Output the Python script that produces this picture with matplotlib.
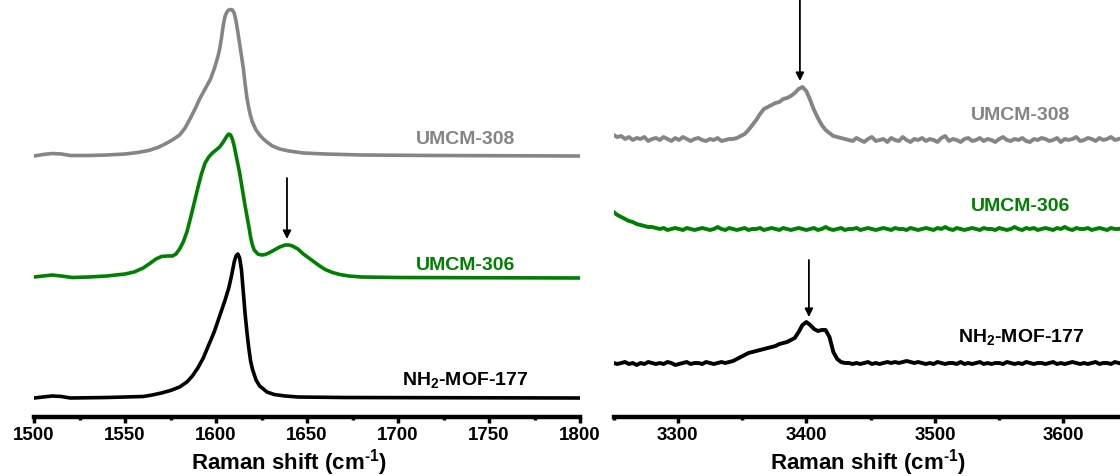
import matplotlib
matplotlib.use('Agg')
import matplotlib.pyplot as plt
from matplotlib.ticker import MultipleLocator
import numpy as np

plt.rcParams['font.family'] = ['Liberation Sans', 'DejaVu Sans']
plt.rcParams['font.weight'] = 'bold'
plt.rcParams['mathtext.fontset'] = 'custom'
plt.rcParams['mathtext.rm'] = 'Liberation Sans:bold'
plt.rcParams['mathtext.bf'] = 'Liberation Sans:bold'
plt.rcParams['mathtext.default'] = 'bf'

GRAY = '#858585'
GREEN = '#008000'
BLACK = '#000000'

# ---- left panel: 1500-1800 cm-1 (intensity above each trace's baseline) ----
x308_l = [1500, 1505, 1510, 1515, 1520, 1530, 1540, 1550, 1557, 1563, 1568, 1572,
          1576, 1580, 1583, 1586, 1589, 1591, 1594, 1597, 1599, 1601, 1602, 1603,
          1604, 1605, 1606, 1607, 1608, 1609, 1610, 1611, 1612, 1613, 1614, 1615,
          1616, 1617, 1618, 1619, 1620, 1622, 1624, 1626, 1628, 1631, 1635, 1640,
          1648, 1660, 1680, 1720, 1800]
y308_l = [0, 1.5, 2.5, 2, 0.5, 0.5, 1, 2, 3.5, 5.5, 8.5, 12,
          16, 21, 28, 38, 49, 57, 67, 77, 87, 99, 107, 118,
          131, 140, 144, 146, 146.5, 146, 143, 135, 124, 112, 100, 88,
          72, 58, 48, 40, 34, 26, 21, 17, 14, 10, 7, 5,
          3, 2, 1, 0.5, 0]

x306_l = [1500, 1505, 1510, 1515, 1521, 1530, 1540, 1550, 1555, 1560, 1564, 1567,
          1570, 1573, 1576, 1578, 1580, 1582, 1584, 1586, 1588, 1590, 1592, 1594,
          1596, 1598, 1600, 1602, 1604, 1605, 1606, 1607, 1608, 1609, 1610, 1611,
          1612, 1613, 1614, 1615, 1616, 1617, 1618, 1619, 1620, 1621, 1623, 1625,
          1627, 1629, 1632, 1635, 1638, 1640, 1642, 1645, 1648, 1651, 1654, 1657,
          1660, 1664, 1668, 1673, 1680, 1700, 1800]
y306_l = [1, 2, 3, 2, 0.5, 1, 2, 4, 6, 10, 15, 19,
          21.5, 22, 22, 24, 29, 36, 46, 60, 75, 90, 104, 115,
          121, 125, 128, 131, 136, 139, 142, 144, 143, 139, 132, 123,
          114, 105, 94, 83, 72, 62, 52, 41, 33, 28, 24, 23,
          23.5, 25, 28, 31, 33, 33, 32, 29, 24, 20, 16, 12,
          8.5, 5.5, 3.5, 2, 1, 0.5, 0]

x177_l = [1500, 1505, 1510, 1515, 1520, 1540, 1560, 1565, 1570, 1575, 1580, 1584,
          1587, 1590, 1593, 1596, 1599, 1602, 1605, 1607, 1608.5, 1610, 1611, 1612,
          1613, 1614, 1615, 1616, 1617, 1618, 1619, 1620, 1622, 1624, 1626, 1628,
          1632, 1638, 1645, 1670, 1800]
y177_l = [0, 1, 2, 1.5, 0, 0.5, 1.5, 3, 5, 7.5, 11, 16,
          22, 30, 40, 53, 66, 82, 98, 110, 122, 136, 142, 144,
          140, 128, 106, 84, 66, 50, 37, 29, 18, 12, 9, 6,
          3.5, 2, 1, 0.5, 0]

# ---- right panel: 3250-3646 cm-1, sampled every 3 cm-1 ----
x_r = np.arange(3250, 3647, 3)
y308_r = [5, 3, 4, 1, 3, 0, 2, 1, 3, -1, 1, 2, 0, 3, 1, -1, 2, 0, 3, 1, -1, 1, 2, 0, -1, 1, 0, 2, -1, 0, 1,
          1, 2, 4, 6, 10, 15, 20, 26, 31, 33, 35, 37, 38, 41, 42, 44, 47, 51, 53, 49, 40, 30, 22, 15,
          10, 7, 4, 3, 2, 1,
          0, -1, 2, 0, -2, 1, 3, -1, 0, 1, -2, 2, 0, -1, 3, 0, -2, 1, 0, 2,
          -1, 1, 0, -2, 2, 4, -1, 1, 0, -2, 1, 2, -1, 0, 2, -1, 1, 0, -2, 1,
          3, 0, -1, 1, 0, 2, -1, -2, 1, 0, 2, 1, -1, 0, 2, -2, 1, 0, 1, 3,
          -1, 0, 2, 1, -1, 2, 0, 1, 3, 0, 1, 2]
y306_r = [18, 15, 13, 11, 9, 8, 6, 5, 4, 3, 3, 2,
          1, 2, 0, 1, 2, 1, 0, 2, 1, 0, 1, 2, 1, 0, 1, 3, 1, 0, 2, 1,
          0, 1, 2, 0, 1, 1, 2, 0, 1, 2, 1, 0, 2, 1, 0, 1, 2, 1, 0, 1,
          2, 0, 1, 3, 1, 0, 1, 2, 0, 1, 1, 2, 0, 1, 2, 1, 0, 1, 2, 1,
          0, 2, 1, 1, 0, 2, 1, 0, 1, 2, 1, 0, 2, 1, 3, 1, 0, 2, 1, 0,
          1, 2, 1, 0, 2, 1, 1, 0, 2, 1, 0, 1, 3, 1, 0, 2, 1, 2, 0, 1,
          2, 1, 0, 2, 1, 3, 1, 0, 2, 1, 1, 2, 0, 1, 2, 1, 0, 2, 1, 1, 2]
y177_r = [1, 0, 1, 2, 0, 1, -1, 1, 0, 2, 1, 0, 1, 0, 2, 1, -1, 0, 1, 2, 0, 1, 1, 0, 2, 1, 0, 1, 2, 1,
          2, 3, 5, 7, 9, 11, 12, 13, 14, 15, 16, 17, 18, 20, 21, 22, 24, 26, 32, 39, 42, 39, 35, 33,
          34, 34, 27, 12, 5, 2, 1, 1,
          0, 1, 0, 1, 2, 0, 1, 0, 1, 2, 1, 2, 1, 2, 3, 2, 1, 2, 1, 0,
          1, 0, 2, 1, 0, 1, 1, 0, 2, 0, 1, 0, 1, 2, 0, 1, 0, 1, 1, 0,
          2, 1, 0, 1, 0, 2, 1, 0, 1, 1, 0, 1, 2, 0, 1, 0, 1, 2, 1, 0,
          1, 0, 1, 2, 0, 1, 1, 0, 2, 1, 0]

labels = ['UMCM-308', 'UMCM-306', 'NH$_2$-MOF-177']
colors = [GRAY, GREEN, BLACK]
offsets_l = [261, 139, 19]
offsets_r = [277, 187, 53]

W, H = 1120, 477
fig = plt.figure(figsize=(W / 100, H / 100), dpi=100)
ax1 = fig.add_axes([34 / W, (H - 418) / H, 546 / W, 418 / H])
ax2 = fig.add_axes([613.5 / W, (H - 418) / H, (W - 613.5) / W, 418 / H])


def style(ax, xmin, xmax, major, minor, label_x):
    ax.set_xlim(xmin, xmax)
    ax.set_ylim(0, 418)
    for s in ['left', 'right', 'top']:
        ax.spines[s].set_visible(False)
    ax.spines['bottom'].set_linewidth(3.2)
    ax.set_yticks([])
    ax.xaxis.set_major_locator(MultipleLocator(major))
    ax.xaxis.set_minor_locator(MultipleLocator(minor))
    ax.tick_params(axis='x', which='major', length=4.5, width=2.5, labelsize=13.5, pad=2)
    ax.tick_params(axis='x', which='minor', length=2.5, width=2.5)
    for t in ax.get_xticklabels():
        t.set_fontweight('bold')
    ax.set_xlabel(r'Raman shift (cm$^{\text{-1}}$)', fontsize=16, fontweight='bold')
    ax.xaxis.set_label_coords(label_x / W, 1 - 469.5 / H, transform=fig.transFigure)
    ax.xaxis.label.set_verticalalignment('baseline')
    ax.patch.set_alpha(0)


style(ax1, 1500, 1800, 50, 25, 289)
style(ax2, 3250, 3644, 100, 50, 868)

series_l = [(x308_l, y308_l), (x306_l, y306_l), (x177_l, y177_l)]
series_r = [y308_r, y306_r, y177_r]

for (xs, ys), off, c in zip(series_l, offsets_l, colors):
    ax1.plot(xs, np.array(ys) + off, color=c, lw=2.6, solid_joinstyle='round')
for ys, off, c in zip(series_r, offsets_r, colors):
    ax2.plot(x_r, np.array(ys) + off, color=c, lw=2.8, solid_joinstyle='round')

# labels
lab_y_l = [274, 148, 33]
lab_y_r = [298, 207, 76]
for lab, c, yl, yr in zip(labels, colors, lab_y_l, lab_y_r):
    ax1.text(1737, yl, lab, color=c, fontsize=14, fontweight='bold', ha='center', va='baseline')
    ax2.text(3567, yr, lab, color=c, fontsize=14, fontweight='bold', ha='center', va='baseline')

# arrows
arrow = dict(arrowstyle='-|>', lw=1.3, color='black', mutation_scale=12, shrinkA=0, shrinkB=0)
ax1.annotate('', xy=(1639, 178), xytext=(1639, 239), arrowprops=arrow, annotation_clip=False)
ax2.annotate('', xy=(3395, 336), xytext=(3395, 420), arrowprops=arrow, annotation_clip=False)
ax2.annotate('', xy=(3402, 100), xytext=(3402, 157), arrowprops=arrow, annotation_clip=False)

fig.savefig('out.png', dpi=100)
